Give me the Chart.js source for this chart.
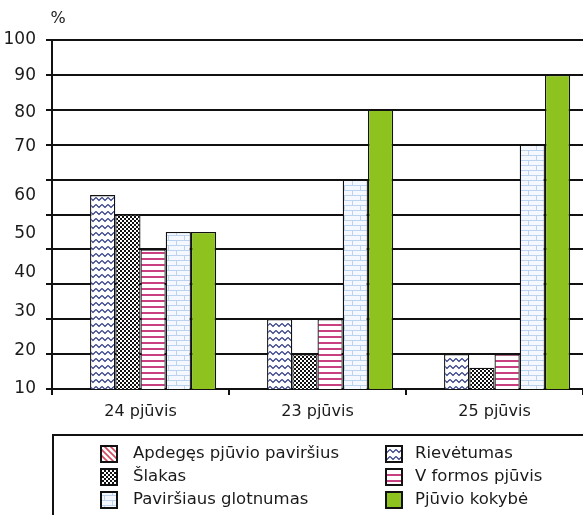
<!DOCTYPE html>
<html><head><meta charset="utf-8">
<script src="https://cdn.jsdelivr.net/npm/chart.js@4.4.1/dist/chart.umd.min.js"></script>
<style>html,body{margin:0;padding:0;background:#fff}#wrap{width:583px;height:515px;position:relative}</style>
</head><body><div id="wrap"><canvas id="c" width="583" height="515"></canvas></div>
<script>
// ---- data ----
const categories = ['24 pjūvis', '23 pjūvis', '25 pjūvis'];
const seriesNames = ['Apdegęs pjūvio paviršius', 'Rievėtumas', 'Šlakas', 'V formos pjūvis', 'Paviršiaus glotnumas', 'Pjūvio kokybė'];
const apdeges = [null, null, null];
const rievetumas = [60, 28, 19];
const slakas = [55, 19, 15.5];
const vFormos = [46, 28, 19];
const pavirsiaus = [50.5, 64, 73];
const kokybe = [50.5, 82, 91];
const yTickLabels = ['10', '20', '30', '40', '50', '60', '70', '80', '90', '100'];
const yTickValues = [10, 20, 30, 40, 50, 60, 72.4, 81.4, 90.7, 100];
const unitLabel = '%';

// ---- patterns ----
function makePattern(w, h, draw) {
  const c = document.createElement('canvas');
  c.width = w; c.height = h;
  const g = c.getContext('2d');
  g.fillStyle = '#fff'; g.fillRect(0, 0, w, h);
  draw(g, w, h);
  return g.createPattern(c, 'repeat');
}
const patDiag = makePattern(6, 6, (g) => {
  g.strokeStyle = '#d24a5e'; g.lineWidth = 1.6;
  g.beginPath();
  g.moveTo(-1, -1); g.lineTo(7, 7);
  g.moveTo(-4, 2); g.lineTo(2, 8);
  g.moveTo(2, -4); g.lineTo(8, 2);
  g.stroke();
});
const patWave = makePattern(6, 7, (g) => {
  g.strokeStyle = '#26337e'; g.lineWidth = 1.1;
  g.beginPath();
  g.moveTo(0, 1.5); g.lineTo(3, 4.5); g.lineTo(6, 1.5);
  g.stroke();
});
const patCheck = makePattern(4, 4, (g) => {
  g.fillStyle = '#111';
  g.fillRect(0, 0, 4, 4);
  g.fillStyle = '#fff';
  g.fillRect(0, 0, 2, 2); g.fillRect(2, 2, 2, 2);
});
const patStripe = makePattern(4, 6, (g) => {
  g.fillStyle = '#c8407f';
  g.fillRect(0, 0, 4, 2);
});
const patBrick = makePattern(16, 10, (g) => {
  g.fillStyle = '#f5f9ff'; g.fillRect(0, 0, 16, 10);
  g.strokeStyle = '#bcd3f0'; g.lineWidth = 1;
  g.beginPath();
  g.moveTo(0, 0.5); g.lineTo(16, 0.5);
  g.moveTo(0, 5.5); g.lineTo(16, 5.5);
  g.moveTo(0.5, 0); g.lineTo(0.5, 5.5);
  g.moveTo(8.5, 5.5); g.lineTo(8.5, 10);
  g.stroke();
});
const fills = [patDiag, patWave, patCheck, patStripe, patBrick, '#8dc21f'];
const seriesData = [apdeges, rievetumas, slakas, vFormos, pavirsiaus, kokybe];

const FONT = "'DejaVu Sans', sans-serif";
Chart.defaults.font.family = FONT;
Chart.defaults.font.size = 16;
Chart.defaults.color = '#1a1a1a';

const overlay = {
  id: 'overlay',
  afterDraw(chart) {
    const ctx = chart.ctx;
    const area = chart.chartArea;
    ctx.save();
    ctx.fillStyle = '#1a1a1a';
    ctx.font = '16px ' + FONT;
    ctx.textAlign = 'center';
    ctx.textBaseline = 'middle';
    ctx.fillText(unitLabel, area.left + 6, 19);
    // legend box
    ctx.strokeStyle = '#111';
    ctx.lineWidth = 2;
    ctx.beginPath();
    ctx.moveTo(53, chart.height + 2);
    ctx.lineTo(53, 435);
    ctx.lineTo(chart.width + 2, 435);
    ctx.stroke();
    const cols = [{ sw: 101, tx: 133 }, { sw: 386, tx: 415 }];
    const rows = [454, 477, 500];
    ctx.textAlign = 'left';
    ctx.font = '16.5px ' + FONT;
    chart.data.datasets.forEach((ds, i) => {
      const col = cols[i % 2], ry = rows[Math.floor(i / 2)];
      ctx.fillStyle = ds.backgroundColor;
      ctx.fillRect(col.sw, ry - 8, 16, 16);
      ctx.lineWidth = 2;
      ctx.strokeStyle = '#111';
      ctx.strokeRect(col.sw, ry - 8, 16, 16);
      ctx.fillStyle = '#1a1a1a';
      ctx.fillText(ds.label, col.tx, ry);
    });
    ctx.restore();
  }
};

new Chart(document.getElementById('c'), {
  type: 'bar',
  data: {
    labels: categories,
    datasets: seriesNames.map((name, i) => ({
      label: name,
      data: seriesData[i],
      backgroundColor: fills[i],
      borderColor: '#111',
      borderWidth: 1.3,
      yAxisID: 'y'
    }))
  },
  options: {
    responsive: false,
    animation: false,
    devicePixelRatio: 1,
    layout: { padding: { top: 40, right: 0, bottom: 0, left: 0 } },
    plugins: { legend: { display: false }, tooltip: { enabled: false } },
    datasets: { bar: { categoryPercentage: 0.855, barPercentage: 1 } },
    scales: {
      x: {
        grid: { display: true, drawOnChartArea: false, drawTicks: true, tickLength: 6, color: '#111', lineWidth: 2 },
        border: { display: true, color: '#111', width: 2 },
        ticks: { padding: 7, color: '#1a1a1a', font: { size: 16 } },
        afterFit(s) { s.height = 126; }
      },
      y: {
        position: 'left', weight: 1, min: 10, max: 100,
        grid: { display: false },
        border: { display: true, color: '#111', width: 2 },
        ticks: { padding: 8, autoSkip: false, color: '#1a1a1a', font: { size: 17 }, callback: (v, i) => yTickLabels[i] },
        afterBuildTicks(s) { s.ticks = yTickValues.map(v => ({ value: v })); },
        afterFit(s) { s.width = 52; }
      },
      yg: {
        position: 'left', weight: 0, min: 0, max: 10,
        ticks: { display: false, stepSize: 1 },
        grid: { color: '#111', lineWidth: 2, tickLength: 6, drawTicks: true },
        border: { display: false },
        afterFit(s) { s.width = 0; }
      }
    }
  },
  plugins: [overlay]
});
</script>
</body></html>
